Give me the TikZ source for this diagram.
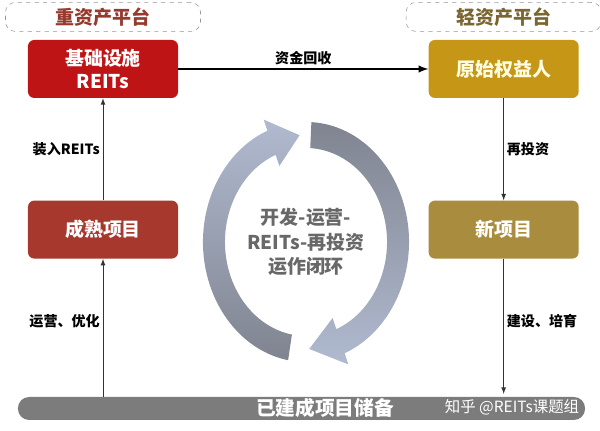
\documentclass[tikz,border=0pt]{standalone}
\usepackage{fontspec}
\setmainfont{Noto Sans CJK SC}
\usetikzlibrary{arrows, shapes, positioning, calc}

\definecolor{heavyred}{RGB}{150,58,45}
\definecolor{lightbrown}{RGB}{122,102,48}
\definecolor{reitsred}{RGB}{190,20,22}
\definecolor{ownergold}{RGB}{198,150,22}
\definecolor{maturered}{RGB}{166,56,46}
\definecolor{newgold}{RGB}{170,140,62}
\definecolor{stockgray}{RGB}{124,124,124}
\definecolor{dashgray}{RGB}{150,150,150}
\definecolor{cyclelight}{RGB}{176,186,208}
\definecolor{cycledark}{RGB}{128,132,144}
\definecolor{centergray}{RGB}{104,104,104}

\begin{document}
\begin{tikzpicture}[x=0.025cm,y=0.025cm,node distance=2cm,>=latex,
	box/.style={rectangle,rounded corners=4.5pt,minimum width=3.75cm,minimum height=1.45cm,align=center,text=white,font=\fontsize{13.5}{16}\selectfont\bfseries},
	platform/.style={rectangle,rounded corners=7pt,draw=dashgray,dashed,minimum width=4.875cm,minimum height=0.725cm,font=\fontsize{13.5}{16}\selectfont\bfseries},
	flow/.style={->,draw=black!80,line width=0.6pt},
	lbl/.style={font=\fontsize{10}{12}\selectfont\bfseries,text=black,inner sep=2pt}]
	\useasboundingbox (0,0) rectangle (600,431);
	
	\node[box,fill=reitsred] (reits) at (103,362) {基础设施\\REITs};
	\node[box,fill=ownergold,text=yellow!12] (owner) [right=6.25cm of reits] {原始权益人};
	\node[box,fill=maturered] (mature) [below=2.55cm of reits] {成熟项目};
	\node[box,fill=newgold] (newproj) [below=2.55cm of owner] {新项目};
	
	\node[platform,text=heavyred] (heavy) [above=0.2cm of reits] {重资产平台};
	\node[platform,text=lightbrown] (light) [above=0.2cm of owner] {轻资产平台};
	
	\node[rectangle,rounded corners=0.28cm,fill=stockgray,minimum width=14.175cm,minimum height=0.575cm] (bar) at (301.5,22.5) {};
	\node[text=white,font=\fontsize{14}{16}\selectfont\bfseries] (stock) at (325,22.5) {已建成项目储备};
	\node[text=white,font=\fontsize{11}{13}\selectfont] (mark) at (512,24) {知乎 @REITs课题组};
	
	% cycle arrows
	\coordinate (C) at (306,189);
	\shade[top color=cyclelight,bottom color=cycledark]
	($(C)+(-100:2.575cm and 3cm)$) arc[start angle=-100,end angle=-248,x radius=2.575cm,y radius=3cm]
	-- ($(C)+(112:2.825cm and 3.3cm)$) -- ($(C)+(94:2.3cm and 2.675cm)$) -- ($(C)+(112:1.775cm and 2.05cm)$)
	-- ($(C)+(112:2.025cm and 2.35cm)$) arc[start angle=112,end angle=260,x radius=2.025cm,y radius=2.35cm] -- cycle;
	\shade[top color=cycledark,bottom color=cyclelight]
	($(C)+(87:2.575cm and 3cm)$) arc[start angle=87,end angle=-68,x radius=2.575cm,y radius=3cm]
	-- ($(C)+(-68:2.825cm and 3.3cm)$) -- ($(C)+(-88:2.3cm and 2.675cm)$) -- ($(C)+(-68:1.775cm and 2.05cm)$)
	-- ($(C)+(-68:2.025cm and 2.35cm)$) arc[start angle=-68,end angle=87,x radius=2.025cm,y radius=2.35cm] -- cycle;
	\node[align=center,text=centergray,font=\fontsize{13.5}{17.5}\selectfont\bfseries] (loop) at (C) {开发-运营-\\REITs-再投资\\运作闭环};
	
	\draw[->,line width=1.4pt] (reits) -- node[lbl,above] {资金回收} (owner);
	\draw[flow] (bar.north -| mature) -- node[lbl,left,pos=0.55] {运营、优化} (mature.south);
	\draw[flow] (mature) -- node[lbl,left] {装入REITs} (reits);
	\draw[flow] (owner) -- node[lbl,right] {再投资} (newproj);
	\draw[flow,shorten >=2pt] (newproj.south) -- node[lbl,right,pos=0.45] {建设、培育} (newproj.south |- bar.north);
	
\end{tikzpicture}
\end{document}
